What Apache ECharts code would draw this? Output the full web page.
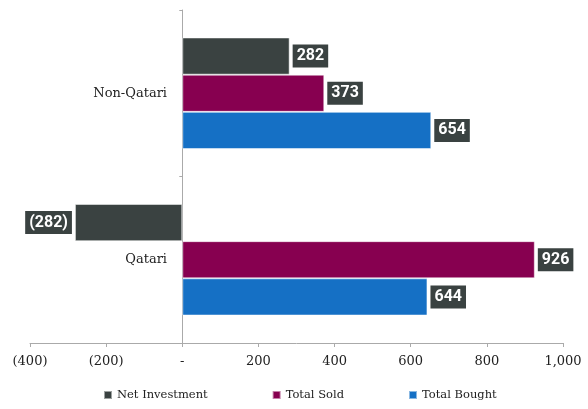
<!DOCTYPE html>
<html>
<head>
<meta charset="utf-8">
<script src="https://cdn.jsdelivr.net/npm/echarts@6/dist/echarts.min.js"></script>
<style>
  html, body { margin: 0; padding: 0; background: #fff; }
  #main { width: 588px; height: 409px; }
</style>
</head>
<body>
<div id="main"></div>
<script>
// data
var categories = ['Qatari', 'Non-Qatari'];
var seriesNames = ['Net Investment', 'Total Sold', 'Total Bought'];
var netInvestment = [-282, 282];
var totalSold = [926, 373];
var totalBought = [644, 654];
var colors = ['#3a4241', '#870050', '#1570c5'];

var serif = 'DejaVu Serif';

function fmt(v) {
    if (v === 0) return '-';
    var s = Math.abs(v).toLocaleString('en-US');
    return v < 0 ? '(' + s + ')' : s;
}

var labelStyle = {
    show: true,
    position: 'right',
    distance: 3,
    color: '#fff',
    fontFamily: 'Roboto',
    fontWeight: 'bold',
    fontSize: 16,
    lineHeight: 17,
    backgroundColor: '#3a4241',
    padding: [3, 4, 3, 4],
    formatter: function (p) { return fmt(p.value); }
};

function makeSeries(name, data, color) {
    return {
        name: name,
        type: 'bar',
        data: data,
        barGap: '0%',
        barCategoryGap: '33%',
        itemStyle: {color: color, borderColor: 'rgba(255,255,255,0.5)', borderWidth: 1},
        label: labelStyle
    };
}

var chart = echarts.init(document.getElementById('main'));
var series = [
    makeSeries(seriesNames[0], netInvestment.map(function (v) {
        return v < 0 ? {value: v, label: {position: 'left'}} : v;  // 负数标签放左边
    }), colors[0]),
    makeSeries(seriesNames[1], totalSold, colors[1]),
    makeSeries(seriesNames[2], totalBought, colors[2])
];

chart.setOption({
    animation: false,
    color: colors,
    grid: {left: 30, right: 25, top: 10, bottom: 66, outerBoundsMode: 'none', containLabel: false},
    legend: {
        data: seriesNames,
        bottom: 3,
        left: 98,
        itemWidth: 8,
        itemHeight: 8,
        itemGap: 64,
        icon: 'rect',
        textStyle: {fontFamily: serif, fontSize: 11.5, color: '#222'}
    },
    xAxis: {
        type: 'value',
        min: -400,
        max: 1000,
        interval: 200,
        splitLine: {show: false},
        axisLine: {show: true, lineStyle: {color: '#aaa'}},
        axisTick: {show: true, length: 4, lineStyle: {color: '#aaa'}},
        axisLabel: {
            fontFamily: serif, fontSize: 13, color: '#222', margin: 12,
            formatter: fmt
        }
    },
    yAxis: {
        type: 'category',
        data: categories,
        axisLine: {show: true, onZero: true, lineStyle: {color: '#aaa'}},
        axisTick: {show: true, length: 3, lineStyle: {color: '#aaa'}},
        axisLabel: {fontFamily: serif, fontSize: 13, color: '#222', margin: -137}
    },
    series: series
});
</script>
</body>
</html>
